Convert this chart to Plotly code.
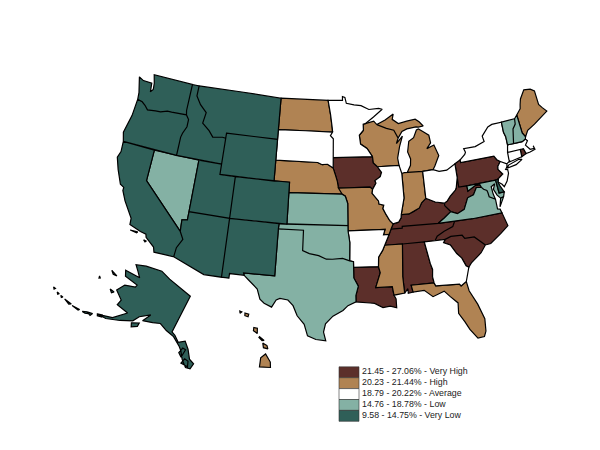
import plotly.graph_objects as go

very_high = ["AL","IA","KY","LA","NC","PA","SC","TN","WV","RI"]
high = ["FL","HI","IN","ME","MI","MS","MO","NE","ND","WI"]
average = ["AR","CT","GA","IL","MA","MN","NJ","NY","OH","SD"]
low = ["KS","NV","NH","OK","TX","VA","VT","MD"]
very_low = ["AK","AZ","CA","CO","DE","ID","MT","NM","OR","UT","WA","WY"]

legend_labels = ["21.45 - 27.06% - Very High","20.23 - 21.44% - High","18.79 - 20.22% - Average","14.76 - 18.78% - Low","9.58 - 14.75% - Very Low"]
class_colors = ["#5c2f2a","#b08353","#ffffff","#84b1a4","#2f5f58"]
class_states = [very_high, high, average, low, very_low]

# Approximate state outlines, lon/lat rings
WA=[[(-124.7,48.38),(-124.0,48.15),(-122.75,48.15),(-122.6,47.3),(-122.3,47.6),(-122.4,48.2),(-122.75,49.0),(-117.03,49),(-117.04,46.42),(-116.92,46.0),(-119.0,45.93),(-119.6,45.92),(-120.5,45.7),(-121.2,45.65),(-122.3,45.55),(-122.8,45.9),(-123.3,46.15),(-124.0,46.25),(-124.1,46.9)]]
OR=[[(-124.55,42.84),(-124.2,42),(-117.03,42),(-117.03,43.8),(-116.9,44.2),(-116.5,44.9),(-116.5,45.6),(-116.92,46.0),(-119.0,45.93),(-119.6,45.92),(-120.5,45.7),(-121.2,45.65),(-122.3,45.55),(-122.8,45.9),(-123.3,46.15),(-124.0,46.25),(-124.1,44.6)]]
CA=[[(-124.2,42),(-120,42),(-120,39),(-114.63,35.0),(-114.15,34.3),(-114.7,33.4),(-114.8,32.5),(-117.12,32.53),(-117.3,33.0),(-118.4,33.75),(-118.5,34.03),(-119.2,34.15),(-120.6,34.55),(-120.65,35.15),(-121.9,36.6),(-122.5,37.5),(-122.5,37.8),(-123.0,38.0),(-123.8,39.3),(-124.35,40.4),(-124.1,41.0)],
    [(-120.4,34.05),(-119.5,34.05),(-119.6,33.95)],
    [(-118.6,33.45),(-118.3,33.4),(-118.4,33.3)]]
NV=[[(-120,42),(-114.05,42),(-114.05,36.2),(-114.7,36.1),(-114.63,35.0),(-120,39)]]
ID=[[(-117.03,49),(-116.05,49),(-116.05,48.0),(-115.3,47.25),(-114.3,46.6),(-114.5,45.55),(-113.45,44.95),(-112.8,44.4),(-111.5,44.55),(-111.05,44.5),(-111.05,42),(-117.03,42),(-117.03,43.8),(-116.9,44.2),(-116.5,44.9),(-116.5,45.6),(-116.92,46.0),(-117.04,46.42)]]
MT=[[(-116.05,49),(-104.05,49),(-104.05,45.0),(-111.05,45.0),(-111.05,44.5),(-111.5,44.55),(-112.8,44.4),(-113.45,44.95),(-114.5,45.55),(-114.3,46.6),(-115.3,47.25),(-116.05,48.0)]]
WY=[[(-111.05,45),(-104.05,45),(-104.05,41),(-111.05,41)]]
UT=[[(-114.05,42),(-111.05,42),(-111.05,41),(-109.05,41),(-109.05,37),(-114.05,37)]]
CO=[[(-109.05,41),(-102.05,41),(-102.05,37),(-109.05,37)]]
AZ=[[(-114.05,37),(-109.05,37),(-109.05,31.33),(-111.07,31.33),(-114.8,32.5),(-114.7,33.4),(-114.15,34.3),(-114.63,35.0),(-114.7,36.1),(-114.05,36.2)]]
NM=[[(-109.05,37),(-103.0,37),(-103.04,36.5),(-103.06,32),(-106.62,32),(-106.53,31.78),(-108.2,31.78),(-108.2,31.33),(-109.05,31.33)]]
ND=[[(-104.05,49),(-97.23,49),(-96.85,47.6),(-96.6,46.3),(-96.56,45.94),(-104.05,45.94)]]
SD=[[(-104.05,45.94),(-96.56,45.94),(-96.85,45.6),(-96.45,45.3),(-96.45,43.5),(-96.45,42.49),(-97.2,42.85),(-97.9,42.8),(-98.5,43.0),(-104.05,43.0)]]
NE=[[(-104.05,43.0),(-98.5,43.0),(-97.9,42.8),(-97.2,42.85),(-96.45,42.49),(-96.1,41.7),(-95.9,41.2),(-95.77,40.58),(-95.3,40.0),(-102.05,40.0),(-102.05,41.0),(-104.05,41.0)]]
KS=[[(-102.05,40.0),(-95.3,40.0),(-94.9,39.8),(-94.61,39.11),(-94.62,37.0),(-102.05,37.0)]]
OK=[[(-103.0,37.0),(-94.62,37.0),(-94.62,36.5),(-94.43,35.39),(-94.48,33.64),(-95.3,33.88),(-96.5,33.8),(-97.2,33.8),(-98.1,34.13),(-99.2,34.3),(-100.0,34.56),(-100,36.5),(-103.04,36.5)]]
TX=[[(-106.53,31.78),(-106.62,32.0),(-103.06,32.0),(-103.04,36.5),(-100.0,36.5),(-100.0,34.56),(-99.2,34.3),(-98.1,34.13),(-97.2,33.8),(-96.5,33.8),(-95.3,33.88),(-94.48,33.64),(-94.04,33.55),(-94.04,33.02),(-94.04,32.0),(-93.55,31.2),(-93.85,30.3),(-93.85,29.7),(-94.75,29.35),(-95.3,28.9),(-96.4,28.35),(-97.2,27.6),(-97.4,26.8),(-97.15,25.96),(-98.2,26.07),(-99.1,26.4),(-99.5,27.5),(-100.3,28.3),(-100.8,29.25),(-101.4,29.77),(-102.3,29.88),(-102.7,29.7),(-103.15,28.98),(-104.0,29.3),(-104.5,29.65),(-104.9,30.6),(-106.0,31.4)]]
MN=[[(-97.23,49.0),(-95.15,49.0),(-95.15,49.38),(-94.8,49.3),(-94.6,48.72),(-93.5,48.55),(-92.5,48.45),(-91.4,48.05),(-90.0,48.1),(-89.5,48.0),(-90.8,47.3),(-92.0,46.7),(-92.29,46.66),(-92.29,46.07),(-92.88,45.6),(-92.75,44.75),(-91.9,44.3),(-91.22,43.5),(-96.45,43.5),(-96.45,45.3),(-96.85,45.6),(-96.56,45.94),(-96.6,46.3),(-96.85,47.6)]]
IA=[[(-96.45,43.5),(-91.22,43.5),(-91.15,42.9),(-90.64,42.51),(-90.15,41.95),(-90.35,41.55),(-91.05,41.2),(-90.95,40.95),(-91.42,40.38),(-91.73,40.61),(-95.77,40.58),(-95.9,41.2),(-96.1,41.7),(-96.45,42.49)]]
MO=[[(-95.77,40.58),(-91.73,40.61),(-91.42,40.38),(-91.5,40.0),(-90.75,39.25),(-90.7,38.95),(-90.12,38.82),(-90.25,38.5),(-89.9,37.9),(-89.5,37.3),(-89.13,36.98),(-89.42,36.5),(-89.7,36.0),(-90.37,36.0),(-90.15,36.5),(-94.62,36.5),(-94.62,37.0),(-94.61,39.11),(-94.9,39.8),(-95.3,40.0)]]
AR=[[(-94.62,36.5),(-90.15,36.5),(-90.37,36.0),(-89.7,36.0),(-90.3,35.0),(-90.6,34.5),(-91.1,33.9),(-91.17,33.0),(-94.04,33.02),(-94.04,33.55),(-94.48,33.64),(-94.43,35.39)]]
LA=[[(-94.04,33.02),(-91.17,33.0),(-91.0,32.4),(-91.6,31.0),(-89.73,31.0),(-89.6,30.18),(-89.4,29.8),(-89.4,28.95),(-90.1,29.15),(-90.9,29.05),(-91.8,29.5),(-92.3,29.55),(-93.85,29.7),(-93.85,30.3),(-93.55,31.2),(-94.04,32.0)]]
WI=[[(-92.29,46.66),(-92.0,46.7),(-90.8,46.9),(-90.4,46.55),(-89.1,46.13),(-88.1,45.9),(-87.6,45.1),(-87.9,44.6),(-87.0,45.25),(-87.5,44.3),(-87.7,43.75),(-87.9,43.2),(-87.8,42.49),(-90.64,42.51),(-91.15,42.9),(-91.22,43.5),(-91.9,44.3),(-92.75,44.75),(-92.88,45.6),(-92.29,46.07)]]
IL=[[(-90.64,42.51),(-87.8,42.49),(-87.53,41.7),(-87.53,39.35),(-88.05,37.8),(-88.1,37.5),(-88.45,37.1),(-89.13,36.98),(-89.5,37.3),(-89.9,37.9),(-90.25,38.5),(-90.12,38.82),(-90.7,38.95),(-90.75,39.25),(-91.5,40.0),(-91.42,40.38),(-90.95,40.95),(-91.05,41.2),(-90.35,41.55),(-90.15,41.95)]]
IN=[[(-87.53,41.7),(-87.2,41.76),(-84.81,41.7),(-84.82,39.1),(-85.4,38.73),(-85.75,38.27),(-86.5,38.0),(-87.1,37.8),(-88.05,37.8),(-87.53,39.35)]]
MI=[[(-86.8,41.76),(-86.3,42.4),(-86.2,43.0),(-86.5,43.7),(-86.2,44.7),(-85.5,45.0),(-85.0,45.7),(-84.7,45.78),(-84.1,45.45),(-83.4,45.05),(-83.3,44.3),(-83.9,43.8),(-82.9,44.05),(-82.45,43.0),(-82.9,42.4),(-83.15,42.05),(-83.45,41.73),(-84.81,41.7)],
    [(-90.4,46.55),(-89.1,46.13),(-88.1,45.9),(-87.6,45.1),(-87.0,45.7),(-86.3,45.9),(-85.0,46.0),(-84.7,45.95),(-84.0,46.0),(-84.5,46.45),(-85.0,46.75),(-86.2,46.65),(-87.4,46.5),(-88.2,46.95),(-88.0,47.45),(-89.2,46.95)]]
OH=[[(-84.81,41.7),(-83.45,41.73),(-82.7,41.5),(-81.7,41.5),(-80.52,41.98),(-80.52,40.64),(-80.85,39.7),(-81.0,39.5),(-81.75,39.0),(-82.2,38.6),(-82.6,38.42),(-83.7,38.65),(-84.3,38.9),(-84.82,39.1)]]
KY=[[(-89.42,36.5),(-88.07,36.5),(-88.05,36.68),(-83.68,36.6),(-82.9,37.0),(-81.97,37.54),(-82.6,38.17),(-82.6,38.42),(-83.7,38.65),(-84.3,38.9),(-84.82,39.1),(-85.4,38.73),(-85.75,38.27),(-86.5,38.0),(-87.1,37.8),(-88.05,37.8),(-88.1,37.5),(-88.45,37.1),(-89.13,36.98)]]
TN=[[(-89.42,36.5),(-88.07,36.5),(-88.05,36.68),(-83.68,36.6),(-81.68,36.59),(-82.0,36.1),(-83.1,35.77),(-84.0,35.4),(-84.32,34.99),(-85.6,35.0),(-88.2,35.0),(-90.3,35.0),(-89.7,36.0)]]
MS=[[(-90.3,35.0),(-88.2,35.0),(-88.47,31.9),(-88.4,30.3),(-89.6,30.18),(-89.73,31.0),(-91.6,31.0),(-91.0,32.4),(-91.17,33.0),(-91.1,33.9),(-90.6,34.5)]]
AL=[[(-88.2,35.0),(-85.6,35.0),(-85.18,32.87),(-85.0,32.3),(-85.1,31.6),(-85.0,31.0),(-87.6,31.0),(-87.45,30.33),(-88.0,30.25),(-88.0,30.7),(-88.4,30.3),(-88.47,31.9)]]
GA=[[(-85.6,35.0),(-84.32,34.99),(-83.1,35.0),(-83.35,34.7),(-82.6,34.4),(-82.0,33.5),(-81.5,33.0),(-81.15,32.2),(-80.87,32.03),(-81.4,30.72),(-82.05,30.37),(-82.2,30.57),(-84.86,30.7),(-85.0,31.0),(-85.1,31.6),(-85.0,32.3),(-85.18,32.87)]]
FL=[[(-87.6,31.0),(-85.0,31.0),(-84.86,30.7),(-82.2,30.57),(-82.05,30.37),(-81.4,30.72),(-81.25,29.8),(-80.55,28.4),(-80.05,26.9),(-80.15,25.7),(-80.4,25.2),(-81.1,25.15),(-81.8,26.1),(-82.2,26.9),(-82.75,27.8),(-82.65,28.8),(-83.4,29.5),(-84.0,30.1),(-85.3,29.7),(-86.2,30.4),(-87.45,30.33)]]
SC=[[(-83.1,35.0),(-82.4,35.2),(-81.05,35.15),(-80.8,34.82),(-79.67,34.8),(-78.55,33.86),(-79.2,33.2),(-80.5,32.4),(-80.87,32.03),(-81.15,32.2),(-81.5,33.0),(-82.0,33.5),(-82.6,34.4),(-83.35,34.7)]]
NC=[[(-84.32,34.99),(-84.0,35.4),(-83.1,35.77),(-82.0,36.1),(-81.68,36.59),(-79.5,36.54),(-75.87,36.55),(-75.5,35.25),(-76.5,34.65),(-77.9,33.9),(-78.55,33.86),(-79.67,34.8),(-80.8,34.82),(-81.05,35.15),(-82.4,35.2),(-83.1,35.0)]]
VA=[[(-83.68,36.6),(-81.68,36.59),(-79.5,36.54),(-75.87,36.55),(-76.0,36.93),(-76.3,37.0),(-76.3,37.95),(-77.0,38.3),(-77.05,38.7),(-77.12,38.93),(-77.5,39.1),(-77.72,39.32),(-78.35,39.4),(-78.87,38.76),(-79.65,38.58),(-80.3,37.55),(-81.2,37.25),(-81.97,37.54),(-82.9,37.0)],
    [(-75.95,37.15),(-75.65,37.95),(-75.25,38.03)]]
WV=[[(-82.6,38.42),(-82.2,38.6),(-81.75,39.0),(-81.0,39.5),(-80.85,39.7),(-80.52,40.64),(-80.52,39.72),(-79.48,39.72),(-79.48,39.2),(-78.4,39.62),(-77.85,39.6),(-77.72,39.32),(-78.35,39.4),(-78.87,38.76),(-79.65,38.58),(-80.3,37.55),(-81.2,37.25),(-81.97,37.54),(-82.6,38.17)]]
MD=[[(-79.48,39.72),(-75.79,39.72),(-75.7,38.46),(-75.05,38.45),(-75.25,38.03),(-75.65,37.95),(-76.0,38.3),(-76.3,38.9),(-76.0,39.4),(-76.5,39.2),(-76.45,38.5),(-76.3,37.95),(-77.0,38.3),(-77.05,38.7),(-77.12,38.93),(-77.5,39.1),(-77.72,39.32),(-77.85,39.6),(-78.4,39.62),(-79.48,39.2)]]
DE=[[(-75.79,39.72),(-75.4,39.8),(-75.55,39.5),(-75.4,39.1),(-75.05,38.45),(-75.7,38.46)]]
PA=[[(-80.52,41.98),(-79.76,42.27),(-79.76,42.0),(-75.35,42.0),(-75.07,41.6),(-74.7,41.36),(-75.13,40.97),(-75.2,40.68),(-74.73,40.15),(-75.4,39.8),(-75.79,39.72),(-79.48,39.72),(-80.52,39.72),(-80.52,40.64)]]
NJ=[[(-73.92,41.0),(-74.7,41.36),(-75.13,40.97),(-75.2,40.68),(-74.73,40.15),(-75.4,39.8),(-75.55,39.5),(-75.1,39.2),(-74.9,38.93),(-74.4,39.4),(-74.0,40.1),(-74.0,40.45),(-74.25,40.5),(-74.03,40.7)]]
NY=[[(-79.76,42.27),(-79.05,42.7),(-78.9,42.9),(-79.05,43.27),(-77.5,43.25),(-76.2,43.55),(-76.3,44.1),(-75.3,44.85),(-74.7,45.0),(-73.35,45.0),(-73.4,44.0),(-73.25,43.55),(-73.27,42.75),(-73.5,42.05),(-73.55,41.3),(-73.48,41.2),(-73.73,41.1),(-73.92,41.0),(-74.7,41.36),(-75.07,41.6),(-75.35,42),(-79.76,42)],
    [(-74.03,40.6),(-73.75,40.85),(-72.3,41.15),(-71.9,41.07),(-72.8,40.72)]]
CT=[[(-73.5,42.05),(-71.8,42.02),(-71.85,41.32),(-73.73,41.1),(-73.48,41.2),(-73.55,41.3)]]
RI=[[(-71.8,42.02),(-71.38,42.02),(-71.2,41.5),(-71.85,41.32)]]
MA=[[(-73.5,42.05),(-73.27,42.75),(-72.46,42.73),(-71.3,42.7),(-70.8,42.87),(-70.6,42.65),(-71.0,42.3),(-70.55,41.8),(-70.0,41.78),(-70.05,42.05),(-69.95,41.67),(-70.65,41.55),(-71.2,41.5),(-71.38,42.02),(-71.8,42.02)]]
VT=[[(-73.35,45.0),(-71.5,45.01),(-71.6,44.5),(-72.05,44.1),(-72.46,42.73),(-73.27,42.75),(-73.25,43.55),(-73.4,44.0)]]
NH=[[(-71.5,45.01),(-71.08,45.3),(-71.0,43.5),(-70.7,43.07),(-70.8,42.87),(-71.3,42.7),(-72.46,42.73),(-72.05,44.1),(-71.6,44.5)]]
ME=[[(-71.08,45.3),(-70.4,45.8),(-70.25,46.2),(-70.0,46.7),(-69.2,47.45),(-68.3,47.35),(-67.8,47.07),(-67.8,45.7),(-67.45,45.3),(-67.0,44.85),(-68.5,44.25),(-69.1,44.0),(-70.2,43.6),(-70.7,43.07),(-71.0,43.5)]]
AK=[[(-141,69.65),(-141,60.3),(-139.6,59.95),(-137.5,58.9),(-135.5,59.75),(-133.5,58.4),(-131.8,56.6),(-130.0,56.0),(-130.5,54.8),(-132,54.7),(-134,56.0),(-135.5,57.5),(-136.6,58.2),(-139.8,59.55),(-143,60.0),(-146,60.7),(-148.5,60.0),(-151.8,59.2),(-150.5,61.2),(-153.5,59.5),(-154.5,58.0),(-158,56.5),(-162,55.0),(-164.8,54.6),(-160.5,56.0),(-157.5,58.7),(-162,58.7),(-162,60.0),(-165.5,61.0),(-164.5,63.0),(-161,64.2),(-161,64.8),(-166.5,64.6),(-168,65.65),(-162,66.5),(-166.5,68.35),(-163,69.8),(-156.6,71.35),(-152,70.8)],
    [(-154.5,57.5),(-152.3,58.4),(-152.2,57.6),(-153.8,56.8)],
    [(-171.7,63.4),(-168.9,63.3),(-170.3,63.0)],
    [(-167.4,60.2),(-165.7,60.3),(-166.2,59.8)],
    [(-173.3,60.6),(-172.6,60.4),(-172.9,60.2)],
    [(-135.9,57.0),(-135.3,58.2),(-134.2,58.1),(-134.6,56.3)],
    [(-133.9,55.2),(-133.3,56.3),(-132.0,56.1),(-131.5,55.0)],
    [(-165,54.6),(-163.6,55.1),(-163.3,54.7),(-164.6,54.3)],
    [(-167.8,53.5),(-166.2,54.0),(-166.4,53.4)],
    [(-169,52.9),(-167.8,53.5),(-167.2,53.4),(-168,53.0)],
    [(-172.5,52.3),(-170,52.8),(-170.2,52.5)],
    [(-175.5,52.1),(-173,52.4),(-173.5,52.0)],
    [(-177.1,52.0),(-176.3,52.1),(-176.5,51.8)],
    [(-178.6,51.9),(-177.8,52.0),(-178,51.7)],
    [(-180.5,52.0),(-179.8,52.1),(-179.9,51.8)]]
HI=[[(-155.9,20.25),(-155.1,19.9),(-154.8,19.5),(-155.65,18.95),(-156.05,19.7)],
    [(-156.7,20.9),(-156.25,20.95),(-156.0,20.75),(-156.4,20.6)],
    [(-157.3,21.2),(-156.75,21.17),(-156.9,21.05),(-157.3,21.1)],
    [(-158.25,21.55),(-157.95,21.7),(-157.65,21.3),(-158.1,21.3)],
    [(-159.75,22.1),(-159.4,22.23),(-159.3,22.0),(-159.6,21.9)],
    [(-160.25,21.95),(-160.05,22.0),(-160.1,21.8)]]

outlines = dict(WA=WA,OR=OR,CA=CA,NV=NV,ID=ID,MT=MT,WY=WY,UT=UT,CO=CO,AZ=AZ,NM=NM,ND=ND,SD=SD,NE=NE,KS=KS,OK=OK,TX=TX,MN=MN,IA=IA,MO=MO,AR=AR,LA=LA,WI=WI,IL=IL,IN=IN,MI=MI,OH=OH,KY=KY,TN=TN,MS=MS,AL=AL,GA=GA,FL=FL,SC=SC,NC=NC,VA=VA,WV=WV,MD=MD,DE=DE,PA=PA,NJ=NJ,NY=NY,CT=CT,RI=RI,MA=MA,VT=VT,NH=NH,ME=ME,AK=AK,HI=HI)

def clockwise(ring):
    area = sum(ring[i][0]*ring[(i+1)%len(ring)][1]-ring[(i+1)%len(ring)][0]*ring[i][1] for i in range(len(ring)))
    ring = list(ring) if area < 0 else list(reversed(ring))
    return ring + [ring[0]]

def subplot_of(state):
    return {"AK":"geo2","HI":"geo3"}.get(state,"geo")

fig = go.Figure()
for name, states, color in zip(legend_labels, class_states, class_colors):
    for sub in ["geo","geo2","geo3"]:
        lon, lat = [], []
        for s in states:
            if subplot_of(s) != sub:
                continue
            for ring in outlines[s]:
                closed = clockwise(ring)
                lon += [p[0] for p in closed] + [None]
                lat += [p[1] for p in closed] + [None]
        if lon:
            fig.add_trace(go.Scattergeo(lon=lon, lat=lat, mode="lines", fill="toself", fillcolor=color, geo=sub,
                                        line=dict(color="black", width=1.2), name=name, hoverinfo="name"))

ox, oy = 8, 8  # page margin offset
def px_domain(cx,cy,w,h):
    return dict(x=[(cx-w/2-ox)/600,(cx+w/2-ox)/600], y=[1-(cy+h/2-oy)/450,1-(cy-h/2-oy)/450])

hidden = dict(bgcolor="rgba(0,0,0,0)",showland=False,showlakes=False,showocean=False,
              showcountries=False,showcoastlines=False,showsubunits=False,showframe=False,showrivers=False)
def conic(lon_range, lat_range, center, scale):
    return dict(hidden,projection=dict(type="albers",parallels=[29.5,45.5],rotation=dict(lon=-96),scale=scale),
                lonaxis=dict(range=lon_range),lataxis=dict(range=lat_range),center=dict(lon=center[0],lat=center[1]))

shapes, notes = [], []
for i,(name,color) in enumerate(zip(legend_labels,class_colors)):
    top = 366.8 + i*10.9 - oy
    shapes.append(dict(type="rect",xref="paper",yref="paper",x0=(339-ox)/600,x1=(359-ox)/600,y0=1-top/450,y1=1-(top+10.9)/450,
                       fillcolor=color,line=dict(color="#333333",width=0.6)))
    notes.append(dict(text=name,xref="paper",yref="paper",x=(360-ox)/600,y=1-(top+4.6)/450,xanchor="left",yanchor="middle",showarrow=False,
                      font=dict(family="Liberation Sans",size=8.8,color="#222222")))

fig.update_layout(
    width=600,height=450,margin=dict(l=0,r=0,t=0,b=0),paper_bgcolor="white",showlegend=False,
    shapes=shapes,annotations=notes,
    geo=dict(conic([-127,-66],[22,56],(-96.5,37),1.1374),domain=px_domain(332.5,225.7,520,340)),
    geo2=dict(conic([-190,-66],[18,72],(-152,63),2.538),domain=px_domain(151.8,305.8,220,150)),
    geo3=dict(conic([-190,-66],[18,72],(-157,20.5),8.02),domain=px_domain(257.6,344.7,150,100)),
)
fig.write_html("out.html")
